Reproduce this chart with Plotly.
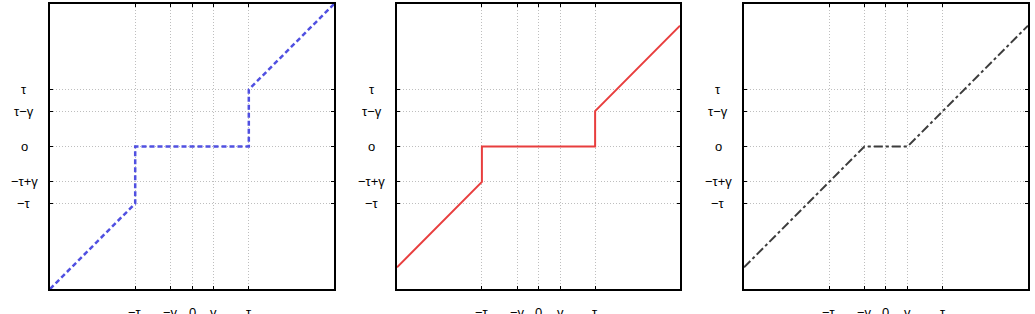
import plotly.graph_objects as go
from plotly.subplots import make_subplots

TAU = 1.0
GAMMA = 0.38

# tick positions / labels
x_tickvals = [-TAU, -GAMMA, 0.0, GAMMA, TAU]
x_ticktext = ["−τ", "−γ", "0", "γ", "τ"]
y_tickvals = [-TAU, -TAU + GAMMA, 0.0, TAU - GAMMA, TAU]
y_ticktext = ["−τ", "−τ+γ", "o", "τ−γ", "τ"]

# series
hard_x = [-2.5, -1.0, -1.0, 1.0, 1.0, 2.5]
hard_y = [-2.5, -1.0, 0.0, 0.0, 1.0, 2.5]

mid_x = [-2.5, -1.0, -1.0, 1.0, 1.0, 2.5]
mid_y = [-2.12, -0.62, 0.0, 0.0, 0.62, 2.12]

soft_x = [-2.5, -0.38, 0.38, 2.5]
soft_y = [-2.12, 0.0, 0.0, 2.12]

series = [
    (hard_x, hard_y, dict(color="rgb(80,80,225)", width=2.5, dash="5px,3px")),
    (mid_x, mid_y, dict(color="rgb(232,62,62)", width=2, dash="solid")),
    (soft_x, soft_y, dict(color="rgb(60,60,60)", width=2, dash="dashdot")),
]

fig = make_subplots(rows=1, cols=3)
domains = [[0.0, 0.2904], [0.3548, 0.6442], [0.7096, 1.0]]

FONT = "Liberation Sans"
for i, (sx, sy, line) in enumerate(series):
    col = i + 1
    fig.add_trace(go.Scatter(x=sx, y=sy, mode="lines", line=line, showlegend=False),
                  row=1, col=col)
    common = dict(
        showgrid=True, gridcolor="rgb(190,190,190)", griddash="1px,2px", gridwidth=1,
        zeroline=False, showline=True, linecolor="black", linewidth=2,
        mirror="ticks", ticks="inside", ticklen=3, tickcolor="black", tickwidth=1,
        showticklabels=False, range=[-2.5, 2.5], fixedrange=True,
    )
    fig.update_xaxes(tickvals=x_tickvals, domain=domains[i], row=1, col=col, **common)
    fig.update_yaxes(tickvals=y_tickvals, row=1, col=col, **common)

    xa = "x" if i == 0 else f"x{col}"
    ya = "y" if i == 0 else f"y{col}"
    for v, t in zip(y_tickvals, y_ticktext):
        fig.add_annotation(x=-0.09, xref=f"{xa} domain", y=v, yref=ya, text=t,
                           showarrow=False, xanchor="center", yanchor="middle",
                           font=dict(family=FONT, size=13, color="black"))
    for v, t in zip(x_tickvals, x_ticktext):
        fig.add_annotation(x=v, xref=xa, y=-0.049, yref=f"{ya} domain", text=t,
                           showarrow=False, xanchor="center", yanchor="top",
                           font=dict(family=FONT, size=13, color="black"))

fig.update_layout(
    width=1035, height=314,
    margin=dict(l=50, r=7, t=2, b=25),
    paper_bgcolor="white", plot_bgcolor="white",
)

fig.write_html("out.html")
